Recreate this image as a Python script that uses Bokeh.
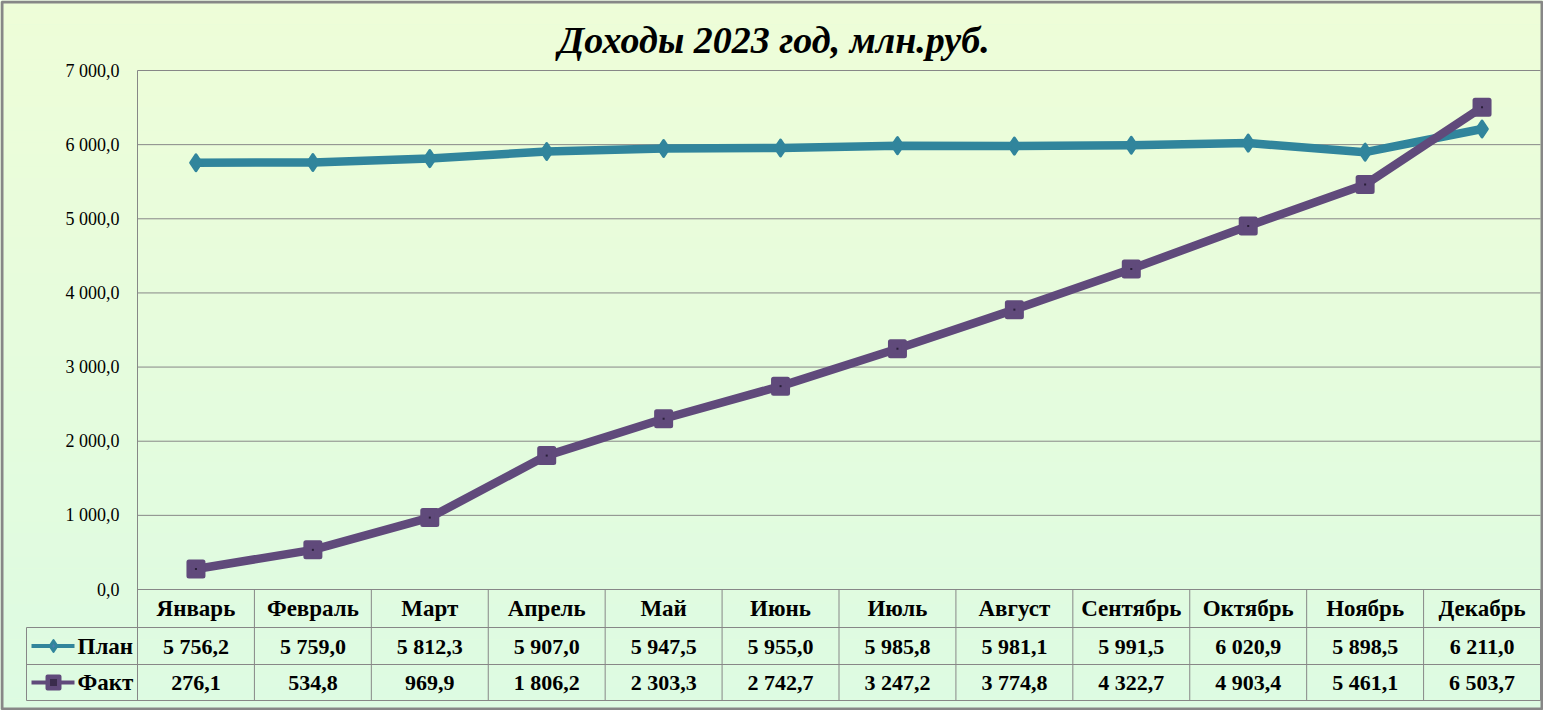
from bokeh.plotting import figure
from bokeh.models import Range1d, Label
from bokeh.embed import file_html
from bokeh.resources import INLINE
from bokeh.core.properties import value

# ---- data ----
months = ["Январь", "Февраль", "Март", "Апрель", "Май", "Июнь",
          "Июль", "Август", "Сентябрь", "Октябрь", "Ноябрь", "Декабрь"]
plan = [5756.2, 5759.0, 5812.3, 5907.0, 5947.5, 5955.0,
        5985.8, 5981.1, 5991.5, 6020.9, 5898.5, 6211.0]
fact = [276.1, 534.8, 969.9, 1806.2, 2303.3, 2742.7,
        3247.2, 3774.8, 4322.7, 4903.4, 5461.1, 6503.7]
series_names = ["План", "Факт"]
y_ticks = [0, 1000, 2000, 3000, 4000, 5000, 6000, 7000]
title_text = "Доходы 2023 год, млн.руб."

def fmt(v):
    return f"{v:,.1f}".replace(",", " ").replace(".", ",")

# ---- layout (pixels) ----
W, H = 1543, 710
L, R = 137, 1540
T, B = 70, 589
ROWS = [589, 627, 664, 700]
LEG_L = 26
YMAX = 7000.0
n = len(months)
cw = (R - L) / n
k = YMAX / (B - T)

def xd(px):
    return (px - L) / cw - 0.5

def yd(py):
    return (B - py) * k

FONT = value("Liberation Serif")
GRID = "#878787"
PLAN_C = "#31859C"
FACT_C = "#604A7B"

p = figure(width=W, height=H, output_backend="svg", toolbar_location=None,
           x_range=Range1d(xd(0), xd(W)), y_range=Range1d(yd(H), yd(0)),
           min_border=0, x_axis_location=None, y_axis_location=None)
p.outline_line_color = None
p.xgrid.visible = False
p.ygrid.visible = False

# background gradient (vertical bands)
NB = 60
top_c = (238, 253, 216)
bot_c = (221, 251, 226)
tops, bots, cols = [], [], []
for i in range(NB):
    t = i / (NB - 1)
    c = tuple(int(round(top_c[j] + (bot_c[j] - top_c[j]) * t)) for j in range(3))
    tops.append(yd(H * i / NB))
    bots.append(yd(H * (i + 1) / NB) - 1)
    cols.append("#%02x%02x%02x" % c)
p.quad(left=xd(0) - 1, right=xd(W) + 1, top=tops, bottom=bots,
       fill_color=cols, line_color=None)
p.background_fill_color = "#E6FCDB"
p.border_fill_color = "#E6FCDB"

# horizontal grid lines
p.segment(x0=xd(L), x1=xd(R), y0=y_ticks, y1=y_ticks, line_color=GRID, line_width=1)
# left axis line
p.segment(x0=[xd(L)], x1=[xd(L)], y0=[YMAX], y1=[yd(ROWS[-1])], line_color=GRID, line_width=1)
# table column separators
bounds = [i + 0.5 for i in range(n)]
p.segment(x0=bounds, x1=bounds, y0=0, y1=yd(ROWS[-1]), line_color=GRID, line_width=1)
# table rows
row_lines = [yd(r) for r in ROWS[1:]]
p.segment(x0=xd(LEG_L), x1=xd(R), y0=row_lines, y1=row_lines, line_color=GRID, line_width=1)
p.segment(x0=[xd(LEG_L)], x1=[xd(LEG_L)], y0=[yd(ROWS[1])], y1=[yd(ROWS[-1])],
          line_color=GRID, line_width=1)

# y tick labels
p.text(x=xd(L - 18), y=y_ticks, text=[fmt(v) for v in y_ticks],
       text_font=FONT, text_font_size="18px", text_align="right",
       text_baseline="middle", text_color="black")

xs = list(range(n))
# series lines
p.line(xs, plan, line_color=PLAN_C, line_width=8.5, line_join="round")
p.scatter(xs, plan, marker="diamond", size=16, fill_color=PLAN_C,
          line_color=PLAN_C, line_width=3, line_join="round")
p.line(xs, fact, line_color=FACT_C, line_width=8.5, line_join="round")
p.scatter(xs, fact, marker="square", size=14, fill_color=FACT_C,
          line_color=FACT_C, line_width=5, line_join="round")
p.scatter(xs, fact, marker="square", size=2, fill_color="#2a1f3a", line_color=None)

# table: month names and values
mid = [yd((ROWS[i] + ROWS[i + 1]) / 2) for i in range(3)]
p.text(x=xs, y=mid[0], text=months, text_font=FONT, text_font_size="23px",
       text_font_style="bold", text_align="center", text_baseline="middle",
       text_color="black")
p.text(x=xs, y=mid[1], text=[fmt(v) for v in plan], text_font=FONT,
       text_font_size="22px", text_font_style="bold", text_align="center",
       text_baseline="middle", text_color="black")
p.text(x=xs, y=mid[2], text=[fmt(v) for v in fact], text_font=FONT,
       text_font_size="22px", text_font_style="bold", text_align="center",
       text_baseline="middle", text_color="black")

# legend keys
p.segment(x0=xd(31), x1=xd(74), y0=[mid[1], mid[2]], y1=[mid[1], mid[2]],
          line_color=[PLAN_C, FACT_C], line_width=4)
p.scatter([xd(53)], [mid[1]], marker="diamond", size=12, fill_color=PLAN_C,
          line_color=PLAN_C, line_width=2, line_join="round")
p.scatter([xd(53)], [mid[1]], marker="diamond", size=4, fill_color="#4f7fb0", line_color=None)
p.scatter([xd(53)], [mid[2]], marker="square", size=12, fill_color=FACT_C,
          line_color=FACT_C, line_width=4, line_join="round")
p.scatter([xd(53)], [mid[2]], marker="square", size=7, fill_color="#3a2c4c", line_color=None)
p.text(x=xd(77), y=[mid[1], mid[2]], text=series_names, text_font=FONT,
       text_font_size="23px", text_font_style="bold", text_align="left",
       text_baseline="middle", text_color="black")

# title
p.add_layout(Label(x=W / 2 + 2, y=H - 39, x_units="screen", y_units="screen",
                   text=title_text, text_font="Liberation Serif",
                   text_font_size="38px", text_font_style="bold italic",
                   text_align="center", text_baseline="middle", text_color="black"))

# outer border
p.quad(left=[xd(1.5)], right=[xd(W - 1.5)], top=[yd(1.5)], bottom=[yd(H - 1.5)],
       fill_color=None, line_color="#878787", line_width=3)

open("out.html", "w").write(file_html(p, INLINE))
